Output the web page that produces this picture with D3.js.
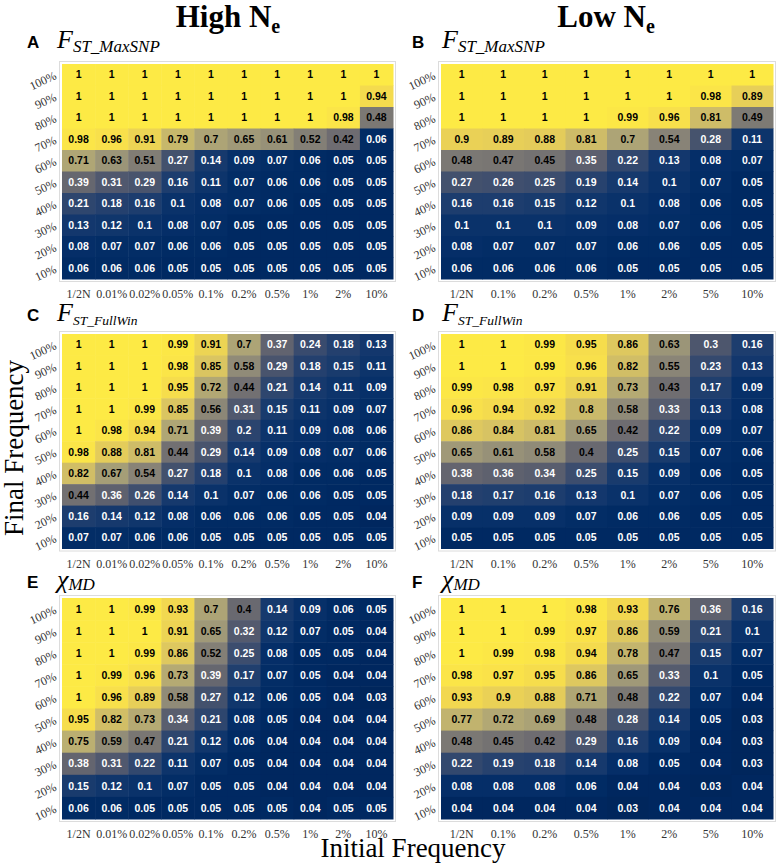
<!DOCTYPE html>
<html><head><meta charset="utf-8">
<script src="https://cdn.jsdelivr.net/npm/d3@7"></script>
<style>body{margin:0;background:#fff}</style>
</head><body>
<svg id="chart" width="777" height="863"></svg>
<script>
// ---------- data ----------
const yLabels = ["100%","90%","80%","70%","60%","50%","40%","30%","20%","10%"];
const xHigh = ["1/2N","0.01%","0.02%","0.05%","0.1%","0.2%","0.5%","1%","2%","10%"];
const xLow  = ["1/2N","0.1%","0.2%","0.5%","1%","2%","5%","10%"];

// rows listed from 100% (top) down to 10% (bottom)
const highMaxSNP = [
  [1,1,1,1,1,1,1,1,1,1],
  [1,1,1,1,1,1,1,1,1,0.94],
  [1,1,1,1,1,1,1,1,0.98,0.48],
  [0.98,0.96,0.91,0.79,0.7,0.65,0.61,0.52,0.42,0.06],
  [0.71,0.63,0.51,0.27,0.14,0.09,0.07,0.06,0.05,0.05],
  [0.39,0.31,0.29,0.16,0.11,0.07,0.06,0.06,0.05,0.05],
  [0.21,0.18,0.16,0.1,0.08,0.07,0.06,0.05,0.05,0.05],
  [0.13,0.12,0.1,0.08,0.07,0.05,0.05,0.05,0.05,0.05],
  [0.08,0.07,0.07,0.06,0.06,0.05,0.05,0.05,0.05,0.05],
  [0.06,0.06,0.06,0.05,0.05,0.05,0.05,0.05,0.05,0.05]
];
const lowMaxSNP = [
  [1,1,1,1,1,1,1,1],
  [1,1,1,1,1,1,0.98,0.89],
  [1,1,1,1,0.99,0.96,0.81,0.49],
  [0.9,0.89,0.88,0.81,0.7,0.54,0.28,0.11],
  [0.48,0.47,0.45,0.35,0.22,0.13,0.08,0.07],
  [0.27,0.26,0.25,0.19,0.14,0.1,0.07,0.05],
  [0.16,0.16,0.15,0.12,0.1,0.08,0.06,0.05],
  [0.1,0.1,0.1,0.09,0.08,0.07,0.06,0.05],
  [0.08,0.07,0.07,0.07,0.06,0.06,0.05,0.05],
  [0.06,0.06,0.06,0.06,0.05,0.05,0.05,0.05]
];
const highFullWin = [
  [1,1,1,0.99,0.91,0.7,0.37,0.24,0.18,0.13],
  [1,1,1,0.98,0.85,0.58,0.29,0.18,0.15,0.11],
  [1,1,1,0.95,0.72,0.44,0.21,0.14,0.11,0.09],
  [1,1,0.99,0.85,0.56,0.31,0.15,0.11,0.09,0.07],
  [1,0.98,0.94,0.71,0.39,0.2,0.11,0.09,0.08,0.06],
  [0.98,0.88,0.81,0.44,0.29,0.14,0.09,0.08,0.07,0.06],
  [0.82,0.67,0.54,0.27,0.18,0.1,0.08,0.06,0.06,0.05],
  [0.44,0.36,0.26,0.14,0.1,0.07,0.06,0.06,0.05,0.05],
  [0.16,0.14,0.12,0.08,0.06,0.06,0.06,0.05,0.05,0.04],
  [0.07,0.07,0.06,0.06,0.05,0.05,0.05,0.05,0.05,0.05]
];
const lowFullWin = [
  [1,1,0.99,0.95,0.86,0.63,0.3,0.16],
  [1,1,0.99,0.96,0.82,0.55,0.23,0.13],
  [0.99,0.98,0.97,0.91,0.73,0.43,0.17,0.09],
  [0.96,0.94,0.92,0.8,0.58,0.33,0.13,0.08],
  [0.86,0.84,0.81,0.65,0.42,0.22,0.09,0.07],
  [0.65,0.61,0.58,0.4,0.25,0.15,0.07,0.06],
  [0.38,0.36,0.34,0.25,0.15,0.09,0.06,0.05],
  [0.18,0.17,0.16,0.13,0.1,0.07,0.06,0.05],
  [0.09,0.09,0.09,0.07,0.06,0.06,0.05,0.05],
  [0.05,0.05,0.05,0.05,0.05,0.05,0.05,0.05]
];
const highChiMD = [
  [1,1,0.99,0.93,0.7,0.4,0.14,0.09,0.06,0.05],
  [1,1,1,0.91,0.65,0.32,0.12,0.07,0.05,0.04],
  [1,1,0.99,0.86,0.52,0.25,0.08,0.05,0.05,0.04],
  [1,0.99,0.96,0.73,0.39,0.17,0.07,0.05,0.04,0.04],
  [1,0.96,0.89,0.58,0.27,0.12,0.06,0.05,0.04,0.03],
  [0.95,0.82,0.73,0.34,0.21,0.08,0.05,0.04,0.04,0.04],
  [0.75,0.59,0.47,0.21,0.12,0.06,0.04,0.04,0.04,0.04],
  [0.38,0.31,0.22,0.11,0.07,0.05,0.04,0.04,0.04,0.04],
  [0.15,0.12,0.1,0.07,0.05,0.05,0.04,0.04,0.04,0.04],
  [0.06,0.06,0.05,0.05,0.05,0.05,0.05,0.04,0.05,0.05]
];
const lowChiMD = [
  [1,1,1,0.98,0.93,0.76,0.36,0.16],
  [1,1,0.99,0.97,0.86,0.59,0.21,0.1],
  [1,0.99,0.98,0.94,0.78,0.47,0.15,0.07],
  [0.98,0.97,0.95,0.86,0.65,0.33,0.1,0.05],
  [0.93,0.9,0.88,0.71,0.48,0.22,0.07,0.04],
  [0.77,0.72,0.69,0.48,0.28,0.14,0.05,0.03],
  [0.48,0.45,0.42,0.29,0.16,0.09,0.04,0.03],
  [0.22,0.19,0.18,0.14,0.08,0.05,0.04,0.03],
  [0.08,0.08,0.08,0.06,0.04,0.04,0.03,0.04],
  [0.04,0.04,0.04,0.04,0.03,0.04,0.04,0.04]
];

const panelLetters = ["A","B","C","D","E","F"];
const columnTitles = ["High N","Low N"];

// ---------- layout ----------
const svg = d3.select("#chart");
const serif = "'Liberation Serif', 'Times New Roman', serif";
const sans = "'Liberation Sans', Arial, Helvetica, sans-serif";

const colX = [[62, 393], [441, 773]];
const rowY = [[64, 279], [334, 548.5], [598, 819]];
const titleY = [48, 321, 588];

const panels = [
  {letter: panelLetters[0], col: 0, row: 0, data: highMaxSNP, xl: xHigh, main: "F", sub: "ST_MaxSNP", subSize: 17},
  {letter: panelLetters[1], col: 1, row: 0, data: lowMaxSNP,  xl: xLow,  main: "F", sub: "ST_MaxSNP", subSize: 17},
  {letter: panelLetters[2], col: 0, row: 1, data: highFullWin, xl: xHigh, main: "F", sub: "ST_FullWin", subSize: 13.5},
  {letter: panelLetters[3], col: 1, row: 1, data: lowFullWin,  xl: xLow,  main: "F", sub: "ST_FullWin", subSize: 13.5},
  {letter: panelLetters[4], col: 0, row: 2, data: highChiMD, xl: xHigh, main: "\u03C7", sub: "MD", subSize: 17},
  {letter: panelLetters[5], col: 1, row: 2, data: lowChiMD,  xl: xLow,  main: "\u03C7", sub: "MD", subSize: 17}
];

const color = d3.scaleSequential(d3.interpolateCividis).domain([0, 1]);

// column titles
columnTitles.forEach((t, i) => {
  const cx = i === 0 ? 228 : 606;
  const tx = svg.append("text").attr("x", cx).attr("y", 27)
    .attr("text-anchor", "middle")
    .style("font-family", serif).style("font-weight", "bold").style("font-size", "31px").style("fill", "#000");
  tx.append("tspan").text(t);
  tx.append("tspan").text("e").attr("dy", 6).style("font-size", "20px");
});

panels.forEach(p => {
  const [x0, x1] = colX[p.col];
  const [y0, y1] = rowY[p.row];
  const x = d3.scaleBand().domain(p.xl).range([x0, x1]);
  const y = d3.scaleBand().domain(yLabels).range([y0, y1]);
  const g = svg.append("g");

  // panel border
  g.append("rect").attr("x", x0 - 2.5).attr("y", y0 - 2.5)
    .attr("width", x1 - x0 + 5).attr("height", y1 - y0 + 5)
    .attr("fill", "none").attr("stroke", "#dcdcdc").attr("stroke-width", 1);

  const cells = [];
  p.data.forEach((row, ri) => row.forEach((v, ci) => cells.push({r: yLabels[ri], c: p.xl[ci], v})));

  g.selectAll("rect.cell").data(cells).join("rect")
    .attr("class", "cell")
    .attr("x", d => x(d.c)).attr("y", d => y(d.r))
    .attr("width", x.bandwidth() + 0.5).attr("height", y.bandwidth() + 0.5)
    .attr("fill", d => color(d.v));

  g.selectAll("text.val").data(cells).join("text")
    .attr("class", "val")
    .attr("x", d => x(d.c) + x.bandwidth() / 2)
    .attr("y", d => y(d.r) + y.bandwidth() / 2)
    .attr("dy", "0.35em")
    .attr("text-anchor", "middle")
    .style("font-family", sans).style("font-weight", "bold").style("font-size", "10.5px")
    .style("fill", d => d.v >= 0.4 ? "#000" : "#fff")
    .text(d => String(d.v));

  // x axis
  const xa = g.append("g").attr("transform", `translate(0,${y1 + 2.5})`)
    .call(d3.axisBottom(x).tickSize(0).tickPadding(8));
  xa.select(".domain").remove();
  xa.selectAll("text").style("font-family", serif).style("font-size", "12px").style("fill", "#333");

  // y axis
  const ya = g.append("g").attr("transform", `translate(${x0 - 2.5},0)`)
    .call(d3.axisLeft(y).tickSize(0).tickPadding(0));
  ya.select(".domain").remove();
  ya.selectAll("text")
    .attr("x", 0).attr("dy", "0.35em")
    .attr("transform", "translate(-4,0) rotate(-25)")
    .style("text-anchor", "end")
    .style("font-family", serif).style("font-size", "12px").style("fill", "#333");

  // panel letter & title
  const lx = p.col === 0 ? 27 : 412;
  svg.append("text").attr("x", lx).attr("y", titleY[p.row])
    .style("font-family", sans).style("font-weight", "bold").style("font-size", "17px").style("fill", "#000")
    .text(p.letter);
  const t = svg.append("text").attr("x", lx + 30).attr("y", titleY[p.row])
    .style("font-family", serif).style("font-style", "italic").style("font-size", "26px").style("fill", "#000");
  t.append("tspan").text(p.main);
  t.append("tspan").text(p.sub).attr("dy", p.main === "F" ? 4 : 2).style("font-size", p.subSize + "px");
});

// axis titles
svg.append("text").attr("x", 413).attr("y", 857).attr("text-anchor", "middle")
  .style("font-family", serif).style("font-size", "27px").style("fill", "#000")
  .text("Initial Frequency");
svg.append("text").attr("transform", "translate(23,448) rotate(-90)").attr("text-anchor", "middle")
  .style("font-family", serif).style("font-size", "27px").style("fill", "#000")
  .text("Final Frequency");
</script>
</body></html>
